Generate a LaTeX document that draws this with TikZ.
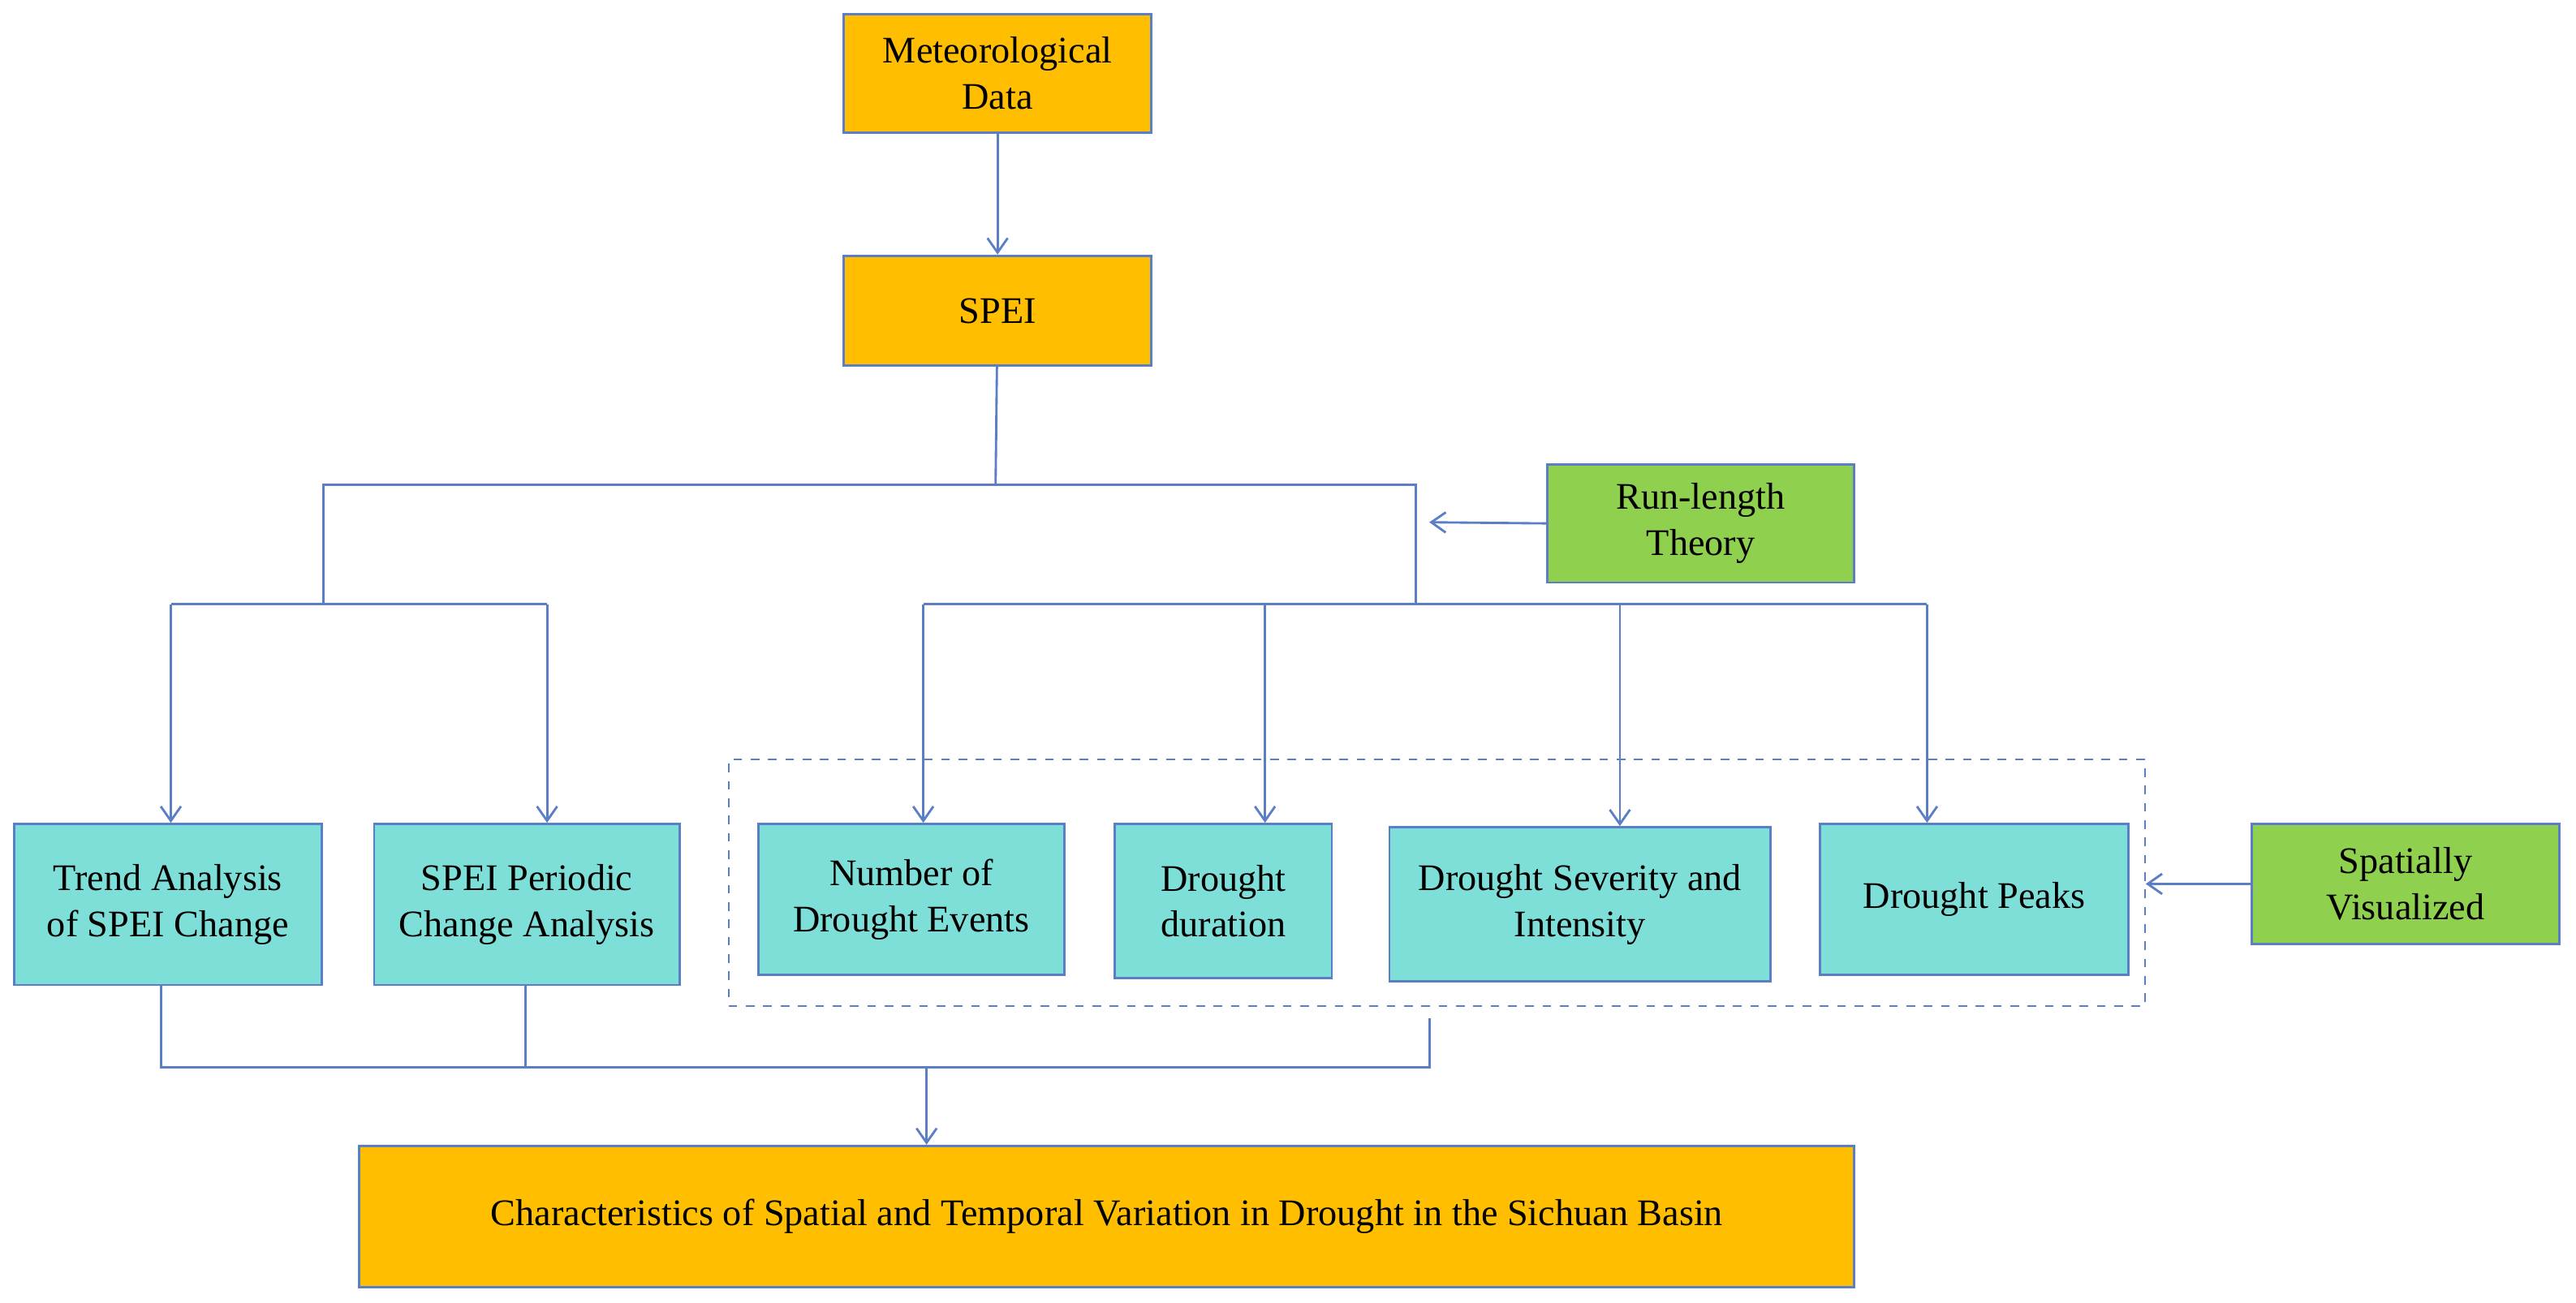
\documentclass[tikz,border=0pt]{standalone}
\usepackage{fontspec}
\setmainfont{Liberation Serif}
\usetikzlibrary{arrows.meta,positioning}
\definecolor{boxorange}{HTML}{FFBF00}
\definecolor{boxcyan}{HTML}{7EDFD8}
\definecolor{boxgreen}{HTML}{8FD14F}
\definecolor{linkblue}{HTML}{5B7FC7}
\tikzset{
box/.style={draw=linkblue, line width=0.8pt, inner sep=2pt, align=center, font=\fontsize{13}{16}\selectfont, anchor=north west},
orange box/.style={box, fill=boxorange},
cyan box/.style={box, fill=boxcyan},
green box/.style={box, fill=boxgreen},
link/.style={draw=linkblue, line width=0.8pt},
arrow/.style={link, -{Straight Barb[length=5pt,width=7pt]}}
}
\begin{document}
\begin{tikzpicture}[x=0.02cm,y=-0.02cm]
        \useasboundingbox (0,0) rectangle (1568,793);
        % top of the chart
        \node [orange box, minimum width=187*0.02cm, minimum height=72*0.02cm] (met) at (513,8) {Meteorological\\Data};
        \node [orange box, minimum width=187*0.02cm, minimum height=67*0.02cm] (spei) at (513,155) {SPEI};
        \node [green box, minimum width=187*0.02cm, minimum height=72*0.02cm] (run) at (941,282) {Run-length\\Theory};
        % second row
        \node [cyan box, minimum width=187*0.02cm, minimum height=98*0.02cm] (trend) at (8,501) {Trend Analysis\\of SPEI Change};
        \node [cyan box, minimum width=186*0.02cm, minimum height=98*0.02cm] (period) at (227,501) {SPEI Periodic\\Change Analysis};
        \node [cyan box, minimum width=186*0.02cm, minimum height=92*0.02cm] (events) at (461,501) {Number of\\Drought Events};
        \node [cyan box, minimum width=132*0.02cm, minimum height=94*0.02cm] (duration) at (678,501) {Drought\\duration};
        \node [cyan box, minimum width=232*0.02cm, minimum height=94*0.02cm] (severity) at (845,503) {Drought Severity and\\Intensity};
        \node [cyan box, minimum width=188*0.02cm, minimum height=92*0.02cm] (peaks) at (1107,501) {Drought Peaks};
        \node [green box, minimum width=187*0.02cm, minimum height=73*0.02cm] (spatial) at (1370,501) {Spatially\\Visualized};
        \node [draw=linkblue, dashed, line width=0.6pt, minimum width=862*0.02cm, minimum height=150*0.02cm, anchor=north west] (group) at (443,462) {};
        % bottom
        \node [orange box, minimum width=910*0.02cm, minimum height=86*0.02cm] (result) at (218,697) {Characteristics of Spatial and Temporal Variation in Drought in the Sichuan Basin};
        % connectors
        \coordinate (split) at (606,295);
        \coordinate (left) at (197,368);
        \coordinate (right) at (862,368);
        \coordinate (join) at (564,650);
        \draw [arrow] (met) -- (spei);
        \draw [link] (spei) -- (split);
        \draw [link] (left) |- (split) -| (right);
        \draw [arrow] (run.west) -- (870,318);
        \draw [link] (104,368) -- (333,368);
        \draw [arrow] (104,368) -- (trend.north -| 104,0);
        \draw [arrow] (333,368) -- (period.north -| 333,0);
        \draw [link] (562,368) -- (1173,368);
        \draw [arrow] (562,368) -- (events.north -| 562,0);
        \draw [arrow] (770,368) -- (duration.north -| 770,0);
        \draw [arrow] (986,368) -- (severity.north -| 986,0);
        \draw [arrow] (1173,368) -- (peaks.north -| 1173,0);
        \draw [arrow] (spatial.west) -- (group.east |- spatial.west);
        \draw [link] (trend.south -| 98,0) |- (870,650) -- (870,620);
        \draw [link] (period.south -| 320,0) -- (320,650);
        \draw [arrow] (join) -- (result.north -| join);
\end{tikzpicture}
\end{document}
